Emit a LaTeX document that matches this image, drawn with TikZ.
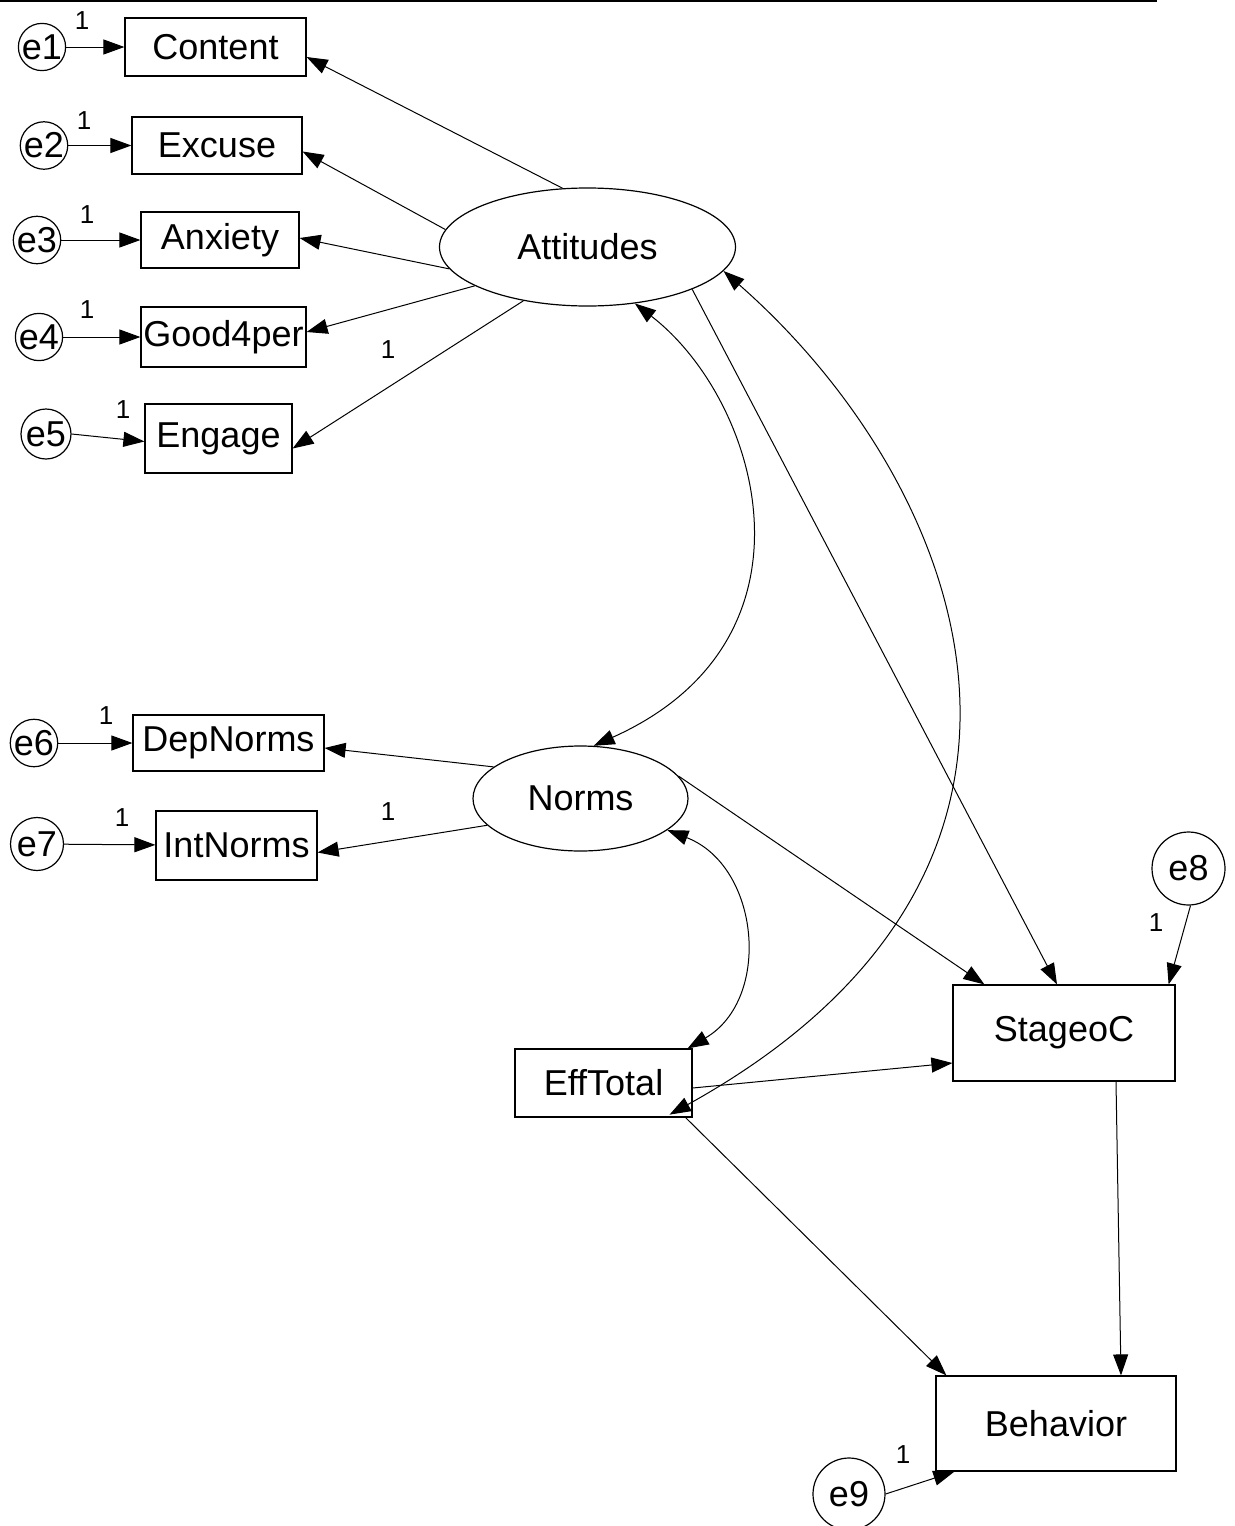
\documentclass[tikz,border=0pt]{standalone}
\usepackage{fontspec}
\setmainfont{Liberation Sans}
\usetikzlibrary{shapes.geometric,arrows.meta,calc}
\begin{document}
\begin{tikzpicture}[x=0.5pt,y=-0.5pt,
  obs/.style={draw,line width=0.6pt,inner sep=0pt,font=\fontsize{18}{20}\selectfont},
  lat/.style={draw,ellipse,line width=0.6pt,inner sep=0pt,font=\fontsize{18}{20}\selectfont},
  err/.style={draw,circle,line width=0.6pt,inner sep=0pt,font=\fontsize{18}{20}\selectfont},
  one/.style={inner sep=0pt,font=\fontsize{13}{14}\selectfont},
  arr/.style={-{Triangle[length=10.5pt,width=7.5pt]},line width=0.5pt},
  dbl/.style={{Triangle[length=10.5pt,width=7.5pt]}-{Triangle[length=10.5pt,width=7.5pt]},line width=0.5pt}]
\useasboundingbox (0,0) rectangle (1235,1526);
\draw[line width=1.2pt] (0,1) coordinate (tl) -- (1157,1) coordinate (tr);

% observed variables
\node[obs,minimum width=90.5pt,minimum height=29pt] (content) at (215.5,47) {Content};
\node[obs,minimum width=85pt,minimum height=28.5pt] (excuse) at (217,145.5) {Excuse};
\node[obs,minimum width=79pt,minimum height=28pt] (anxiety) at (220,240) {Anxiety};
\node[obs,minimum width=82.5pt,minimum height=30pt] (good) at (223.5,337) {Good4per};
\node[obs,minimum width=73.5pt,minimum height=34.5pt] (engage) at (218.5,438.5) {Engage};
\node[obs,minimum width=95.5pt,minimum height=28pt] (dep) at (228.5,743) {DepNorms};
\node[obs,minimum width=80.5pt,minimum height=34.5pt] (int) at (236.5,845.5) {IntNorms};
\node[obs,minimum width=88.5pt,minimum height=34pt] (eff) at (603.5,1083) {EffTotal};
\node[obs,minimum width=111pt,minimum height=48pt] (stage) at (1064,1033) {StageoC};
\node[obs,minimum width=120pt,minimum height=47.5pt] (beh) at (1056,1423.5) {Behavior};

% latent variables
\node[lat,minimum width=148pt,minimum height=59pt] (att) at (587.5,247) {Attitudes};
\node[lat,minimum width=107.5pt,minimum height=52.5pt] (norms) at (580.5,798.5) {Norms};

% errors
\node[err,minimum size=20pt] (e1) at (42,47) {e1};
\node[err,minimum size=20pt] (e2) at (44,145.5) {e2};
\node[err,minimum size=20pt] (e3) at (37,240) {e3};
\node[err,minimum size=22pt] (e4) at (39,337) {e4};
\node[err,minimum size=25pt] (e5) at (46,434) {e5};
\node[err,minimum size=21pt] (e6) at (34,743) {e6};
\node[err,minimum size=26.5pt] (e7) at (37,844) {e7};
\node[err,minimum size=36.5pt] (e8) at (1188.5,868.5) {e8};
\node[err,minimum size=36pt] (e9) at (849,1494) {e9};

% error arrows
\draw[arr] (e1) -- (content);
\draw[arr] (e2) -- (excuse);
\draw[arr] (e3) -- (anxiety);
\draw[arr] (e4) -- (good);
\draw[arr] (e5.east) -- ([yshift=-1.5pt]engage.west);
\draw[arr] (e6) -- (dep);
\draw[arr] (e7) -- (int);
\draw[arr] ([xshift=1pt]e8.south) -- ([xshift=-3.5pt]stage.north east);
\draw[arr] (e9.east) -- ([xshift=9.5pt]beh.south west);

% loadings
\draw[arr] (att.113) -- ([yshift=-5pt]content.east);
\draw[arr] (att.173) -- ([yshift=-3pt]excuse.east);
\draw[arr] (att.189) -- ([yshift=1pt]anxiety.east);
\draw[arr] (att.199) -- ([yshift=2.5pt]good.east);
\draw[arr] (att.220) -- ([yshift=-5pt]engage.east);
\draw[arr] (norms.160) -- ([yshift=-2.5pt]dep.east);
\draw[arr] (norms.196) -- ([yshift=-3.5pt]int.east);

% structural paths
\draw[arr] (att.-22) -- ([xshift=-3.5pt]stage.north);
\draw[arr] (norms.13) -- ([xshift=16pt]stage.north west);
\draw[arr] ([yshift=-2.5pt]eff.east) -- ([yshift=-15pt]stage.west);
\draw[arr] ([xshift=-3.5pt]eff.south east) -- ([xshift=5.5pt]beh.north west);
\draw[arr] ([xshift=26pt]stage.south) -- ([xshift=32.5pt]beh.north);

% covariances
\draw[dbl] (att.-50) .. controls (760,400) and (830,640) .. (norms.76);
\draw[dbl] (att.-10) .. controls (966,484) and (1115,868) .. ($(eff.south east)+(-23,-3)$);
\draw[dbl] (norms.-20) .. controls (760,866) and (772,999) .. ([xshift=-2.5pt]eff.north east);

% labels
\node[one] (l1) at (82,21) {1};
\node[one] (l2) at (84,121) {1};
\node[one] (l3) at (87,215) {1};
\node[one] (l4) at (87,310) {1};
\node[one] (l5) at (123,410) {1};
\node[one] (l6) at (388,350) {1};
\node[one] (l7) at (106,716) {1};
\node[one] (l8) at (122,818) {1};
\node[one] (l9) at (388,812) {1};
\node[one] (l10) at (1156,923) {1};
\node[one] (l11) at (903,1455) {1};
\end{tikzpicture}
\end{document}
